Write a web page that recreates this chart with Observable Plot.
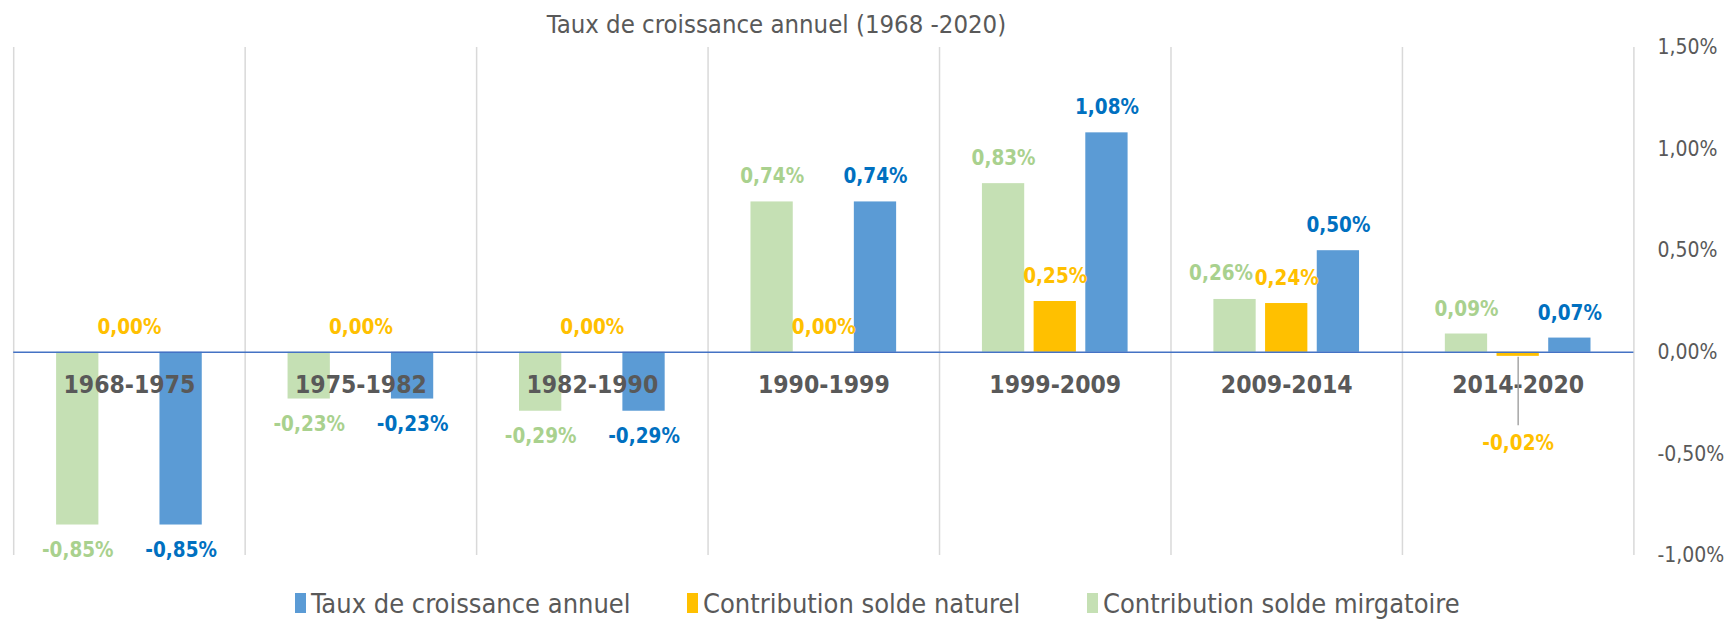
<!DOCTYPE html>
<html>
<head>
<meta charset="utf-8">
<script src="https://cdn.jsdelivr.net/npm/d3@7"></script>
<script src="https://cdn.jsdelivr.net/npm/@observablehq/plot@0.6"></script>
<style>
  html, body { margin: 0; padding: 0; background: #fff; overflow: hidden; }
  body { font-family: "DejaVu Sans Condensed", "DejaVu Sans", sans-serif; color: #595959; width: 1727px; height: 626px; position: relative; }
  #title { height: 30px; padding-top: 9px; line-height: 30px; font-size: 25.5px; width: 1553px; text-align: center; white-space: nowrap; }
  #chart svg { overflow: visible; display: block; }
  #legend { position: relative; height: 46px; }
  .item { position: absolute; top: 0; height: 46px; display: flex; align-items: center; font-size: 27px; white-space: nowrap; }
  .swatch { display: inline-block; width: 11px; height: 20px; margin-right: 5px; }
</style>
</head>
<body>
<div id="title">Taux de croissance annuel (1968 -2020)</div>
<div id="chart"></div>
<div id="legend"></div>
<script>
// ---- data ----
const categories = ["1968-1975", "1975-1982", "1982-1990", "1990-1999", "1999-2009", "2009-2014", "2014-2020"];
const soldeMigratoire = [-0.85, -0.23, -0.29, 0.74, 0.83, 0.26, 0.09];
const soldeNaturel = [0.00, 0.00, 0.00, 0.00, 0.25, 0.24, -0.02];
const tauxCroissance = [-0.85, -0.23, -0.29, 0.74, 1.08, 0.50, 0.07];
const seriesNames = ["Contribution solde mirgatoire", "Contribution solde naturel", "Taux de croissance annuel"];
const legendOrder = ["Taux de croissance annuel", "Contribution solde naturel", "Contribution solde mirgatoire"];
const yTicks = [-1, -0.5, 0, 0.5, 1, 1.5];

// ---- styles ----
const barColors = {
  "Contribution solde mirgatoire": "#C5E0B4",
  "Contribution solde naturel": "#FFC000",
  "Taux de croissance annuel": "#5B9BD5"
};
const labelColors = {
  "Contribution solde mirgatoire": "#A9D18E",
  "Contribution solde naturel": "#FFC000",
  "Taux de croissance annuel": "#0070C0"
};
const FONT = '"DejaVu Sans Condensed", "DejaVu Sans", sans-serif';

const seriesValues = [soldeMigratoire, soldeNaturel, tauxCroissance];
const rows = [];
categories.forEach((c, i) => {
  seriesNames.forEach((s, k) => {
    rows.push({category: c, i, series: s, k: k - 1, value: seriesValues[k][i]});
  });
});

const step = 0.2233;   // distance between bars inside a group (in category units)
const bw = 0.1827;     // bar width (in category units)
const xc = d => d.i + d.k * step;

const fmt = v => (v < 0 ? "-" : "") + Math.abs(v).toFixed(2).replace(".", ",") + "%";

// label placement tweaks (as in the original chart)
const isCallout = d => d.category === "2014-2020" && d.series === "Contribution solde naturel";
const isShifted = d => d.category === "2009-2014" && d.series === "Contribution solde mirgatoire";
const calloutY = -0.45;

const normalPos = rows.filter(d => d.value >= 0 && !isCallout(d) && !isShifted(d));
const normalNeg = rows.filter(d => d.value < 0 && !isCallout(d));
const shifted = rows.filter(isShifted);
const callout = rows.filter(isCallout);

const separators = d3.range(categories.length + 1).map(i => i - 0.5);

const labelStyle = {fontWeight: "bold", fontSize: 20.5, fontFamily: FONT, fill: d => labelColors[d.series], text: d => fmt(d.value)};

const chart = Plot.plot({
  width: 1727,
  height: 541,
  marginTop: 8,
  marginBottom: 25,
  marginLeft: 13.2,
  marginRight: 93.6,
  style: {fontFamily: FONT, fontSize: "21px", color: "#595959", background: "white"},
  x: {domain: [-0.5, categories.length - 0.5], axis: null},
  y: {domain: [-1, 1.5], ticks: yTicks, tickFormat: fmt, axis: "right", tickSize: 0, tickPadding: 23.6, label: null},
  color: {type: "identity"},
  marks: [
    Plot.ruleX(separators, {x: d => d, y1: -1, y2: 1.5, stroke: "#D9D9D9", strokeWidth: 1.5}),
    Plot.rectY(rows, {x1: d => xc(d) - bw / 2, x2: d => xc(d) + bw / 2, y1: 0, y2: "value", fill: d => barColors[d.series]}),
    Plot.ruleY([0], {stroke: "#4472C4", strokeWidth: 1.5}),
    Plot.text(categories, {x: (d, i) => i, y: () => 0, dy: 33, text: d => d, fontWeight: "bold", fontSize: 24.5, fontFamily: FONT, fill: "#595959"}),
    Plot.text(normalPos, {x: xc, y: "value", dy: -25, ...labelStyle}),
    Plot.text(normalNeg, {x: xc, y: "value", dy: 25, ...labelStyle}),
    Plot.text(shifted, {x: xc, y: "value", dy: -26, dx: -14, ...labelStyle}),
    Plot.ruleX(callout, {x: xc, y1: "value", y2: () => calloutY, insetTop: 1, insetBottom: 18, stroke: "#A6A6A6", strokeWidth: 1.5}),
    Plot.text(callout, {x: xc, y: () => calloutY, ...labelStyle})
  ]
});
document.getElementById("chart").appendChild(chart);

// ---- legend ----
const legendX = {"Taux de croissance annuel": 295, "Contribution solde naturel": 687, "Contribution solde mirgatoire": 1087};
const legend = document.getElementById("legend");
legendOrder.forEach(s => {
  const item = document.createElement("div");
  item.className = "item";
  item.style.left = legendX[s] + "px";
  const sw = document.createElement("span");
  sw.className = "swatch";
  sw.style.background = barColors[s];
  item.appendChild(sw);
  const t = document.createElement("span");
  t.textContent = s;
  item.appendChild(t);
  legend.appendChild(item);
});
</script>
</body>
</html>
